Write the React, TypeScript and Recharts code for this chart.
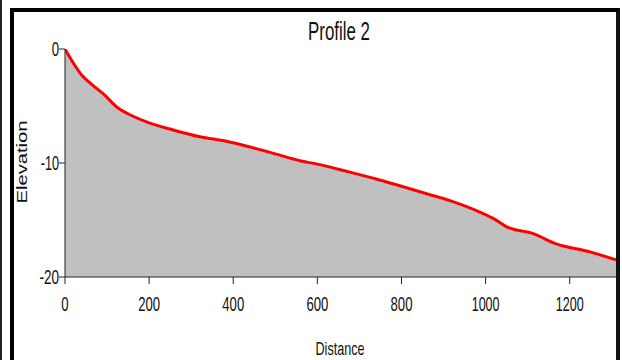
import React from 'react';
import { ComposedChart, Area, XAxis, YAxis } from 'recharts';

const distance = [0, 20, 40, 60, 90, 127, 162, 194, 257, 321, 384, 440, 500, 558, 600, 677, 740, 796, 860, 915, 986, 1020, 1050, 1113, 1168, 1248, 1310];
const elevation = [0, -1.25, -2.3, -3.0, -3.9, -5.2, -5.9, -6.4, -7.1, -7.7, -8.1, -8.6, -9.2, -9.8, -10.1, -10.8, -11.4, -12.0, -12.7, -13.3, -14.3, -14.9, -15.6, -16.2, -17.1, -17.8, -18.5];
const xTicks = [0, 200, 400, 600, 800, 1000, 1200];
const yTicks = [-20, -10, 0];
const title = 'Profile 2';
const xLabel = 'Distance';
const yLabel = 'Elevation';

const data = distance.map((d, i) => ({ d, e: elevation[i] }));

const FONT = 'Liberation Sans Narrow, Liberation Sans, sans-serif';

const lenOf = (s: string) => {
  let w = 0;
  for (const c of s) w += c === '-' ? 5 : c === '1' ? 6 : 7.3;
  return w;
};

const XTick = (props: any) => {
  const { x, y, payload } = props;
  const s = String(payload.value);
  return (
    <text x={x} y={y + 25} textAnchor="middle" fontFamily={FONT} fontSize={21} fill="#111"
      textLength={lenOf(s)} lengthAdjust="spacingAndGlyphs">{s}</text>
  );
};

const YTick = (props: any) => {
  const { x, y, payload } = props;
  const s = String(payload.value);
  return (
    <text x={x + 2} y={y + 7} textAnchor="end" fontFamily={FONT} fontSize={21} fill="#111"
      textLength={lenOf(s)} lengthAdjust="spacingAndGlyphs">{s}</text>
  );
};

export default function App() {
  return (
    <div style={{ position: 'fixed', left: 0, top: 0, width: 622, height: 360, background: '#fff', overflow: 'hidden' }}>
      <div style={{ position: 'absolute', left: 0, top: 0, width: 2, height: 360, background: '#222' }} />
      <div style={{ position: 'absolute', left: 10, top: 8, width: 602, height: 400, borderLeft: '4px solid #000', borderTop: '4px solid #000', borderRight: '4px solid #111' }} />
      <div style={{ position: 'absolute', left: 0, top: 0 }}>
        <ComposedChart width={622} height={360} data={data} margin={{ top: 49, right: 6, bottom: 53, left: 15 }}>
          <XAxis dataKey="d" type="number" domain={[0, 1310]} ticks={xTicks} allowDataOverflow
            axisLine={{ stroke: '#222', strokeWidth: 1 }} tickLine={{ stroke: '#222' }} tickSize={7}
            height={30} tick={<XTick />}
            label={{ content: () => (
              <text x={340} y={355} textAnchor="middle" fontFamily={FONT} fontSize={19} fill="#111"
                textLength={49} lengthAdjust="spacingAndGlyphs">{xLabel}</text>
            ) }} />
          <YAxis type="number" domain={[-20, 0]} ticks={yTicks} allowDataOverflow
            axisLine={{ stroke: '#222', strokeWidth: 1 }} tickLine={{ stroke: '#222' }} tickSize={6}
            width={50} tick={<YTick />}
            label={{ content: () => (
              <text x={27} y={162} transform="rotate(-90 27 162)" textAnchor="middle" fontFamily="Liberation Sans, sans-serif" fontSize={14} fill="#111"
                textLength={83} lengthAdjust="spacingAndGlyphs">{yLabel}</text>
            ) }} />
          <Area dataKey="e" type="monotone" baseValue={-20} fill="#c0c0c0" fillOpacity={1}
            stroke="#ff0000" strokeWidth={3} isAnimationActive={false} dot={false} activeDot={false} />
        </ComposedChart>
      </div>
      <svg width={622} height={60} style={{ position: 'absolute', left: 0, top: 0, pointerEvents: 'none' }}>
        <text x={339} y={40} textAnchor="middle" fontFamily={FONT} fontSize={25} fill="#111"
          textLength={62} lengthAdjust="spacingAndGlyphs">{title}</text>
      </svg>
    </div>
  );
}
